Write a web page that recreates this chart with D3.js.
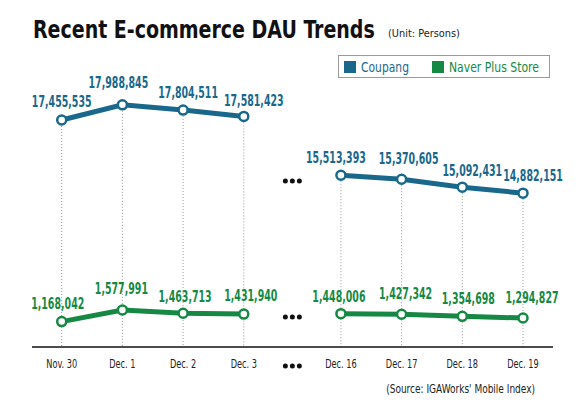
<!DOCTYPE html>
<html lang="en">
<head>
<meta charset="UTF-8">
<title>Recent E-commerce DAU Trends</title>
<style>
  *{margin:0;padding:0;}
  body{background:#fff;}
  svg text{font-family:'Liberation Sans Narrow','DejaVu Sans Condensed','Roboto',sans-serif;}
</style>
</head>
<body>
<div id="chart"></div>
<script src="https://cdn.jsdelivr.net/npm/d3@7/dist/d3.min.js"></script>
<script>
var dates = ['Nov. 30','Dec. 1','Dec. 2','Dec. 3','Dec. 16','Dec. 17','Dec. 18','Dec. 19']
var coupang = [17455535,17988845,17804511,17581423,15513393,15370605,15092431,14882151]
var naver = [1168042,1577991,1463713,1431940,1448006,1427342,1354698,1294827]
var seriesNames = ['Coupang','Naver Plus Store']
var colors = ['#19688c','#158943']

// hand placement of the value labels (dx from point, height above point)
var cDx = [0,-4,5,10,-5,7,10,10], cDy = [13,17,12,10,12,15,11,12]
var nDx = [-4,-1,2,7,-2,4,6,9], nDy = [13,16,11,13,12,15,12,15]

var W = 580, H = 410
var axisY = 347
var fmt = d3.format(',')

var svg = d3.select('#chart').append('svg').attr('width', W).attr('height', H)

// text squeezed horizontally (the original uses a narrow face)
function addText(g, px, py, str, size, o) {
  o = o || {}
  var t = g.append('text')
    .attr('font-size', size)
    .attr('font-weight', o.weight || 'normal')
    .attr('fill', o.fill || '#222')
    .attr('text-anchor', o.anchor || 'start')
    .text(str)
  var k = o.k || 0.8
  if (o.width) k = o.width / t.node().getComputedTextLength()
  t.attr('transform', 'translate(' + px + ',' + py + ') scale(' + k + ',1)')
  return t
}

// slot positions: a gap after Dec. 3 for the "..." break
function slot(i) { return i < 4 ? i : i + 0.6 }
var x = d3.scaleLinear().domain([0, 7.6]).range([61.7, 523])
var breakX = x(3.8)

// broken y axis: two panels with the same pixel scale
var yTop = d3.scaleLinear().domain([14500000, 18300000]).range([204, 96])
var yBot = d3.scaleLinear().domain([1000000, 1700000]).range([326.4, 306.5])

// title
addText(svg, 33, 38, 'Recent E-commerce DAU Trends', 25, {weight: 'bold', fill: '#111', width: 342})
addText(svg, 388, 37, '(Unit: Persons)', 10.5, {width: 72})

// legend
svg.append('rect').attr('x', 338.5).attr('y', 55.5).attr('width', 211).attr('height', 22)
  .attr('fill', '#fff').attr('stroke', '#9a9a9a')
seriesNames.forEach(function (name, i) {
  var lx = [344, 432][i]
  svg.append('rect').attr('x', lx).attr('y', 61).attr('width', 12).attr('height', 12).attr('fill', colors[i])
  addText(svg, lx + 17, 71.5, name, 13.5, {fill: colors[i], width: [48, 90][i]})
})

// dotted drop lines
svg.selectAll('.drop').data(coupang).enter().append('line')
  .attr('x1', function (d, i) { return x(slot(i)) }).attr('x2', function (d, i) { return x(slot(i)) })
  .attr('y1', function (d) { return yTop(d) }).attr('y2', axisY)
  .attr('stroke', '#999').attr('stroke-width', 1).attr('stroke-dasharray', '1,2')

// baseline
svg.append('line').attr('x1', 32).attr('x2', 553).attr('y1', axisY).attr('y2', axisY)
  .attr('stroke', '#111').attr('stroke-width', 1.5)

// x labels
dates.forEach(function (d, i) {
  addText(svg, x(slot(i)), 368, d, 12, {anchor: 'middle', k: 0.76})
})

// series
function drawSeries(vals, y, color, dx, dy) {
  var pts = vals.map(function (v, i) { return [i, v] })
  var parts = [pts.slice(0, 4), pts.slice(4)]
  var line = d3.line().x(function (d) { return x(slot(d[0])) }).y(function (d) { return y(d[1]) })
  var g = svg.append('g')
  g.selectAll('path').data(parts).enter().append('path')
    .attr('d', line).attr('fill', 'none').attr('stroke', color).attr('stroke-width', 5)
  g.selectAll('circle').data(vals).enter().append('circle')
    .attr('cx', function (d, i) { return x(slot(i)) }).attr('cy', function (d) { return y(d) })
    .attr('r', 4.5).attr('fill', '#fff').attr('stroke', color).attr('stroke-width', 2.5)
  vals.forEach(function (v, i) {
    addText(g, x(slot(i)) + dx[i], y(v) - dy[i], fmt(v), 15, {anchor: 'middle', fill: color, weight: 'bold', k: 0.7})
  })
}
drawSeries(coupang, yTop, colors[0], cDx, cDy)
drawSeries(naver, yBot, colors[1], nDx, nDy)

// break markers
var breakYs = [181, 317, 366]
breakYs.forEach(function (by) {
  svg.selectAll(null).data([-7, 0, 7]).enter().append('circle')
    .attr('cx', function (d) { return breakX + d }).attr('cy', by).attr('r', 2.5).attr('fill', '#111')
})

// source
addText(svg, 535, 393, "(Source: IGAWorks' Mobile Index)", 11.5, {anchor: 'end', width: 149})
</script>
</body>
</html>
